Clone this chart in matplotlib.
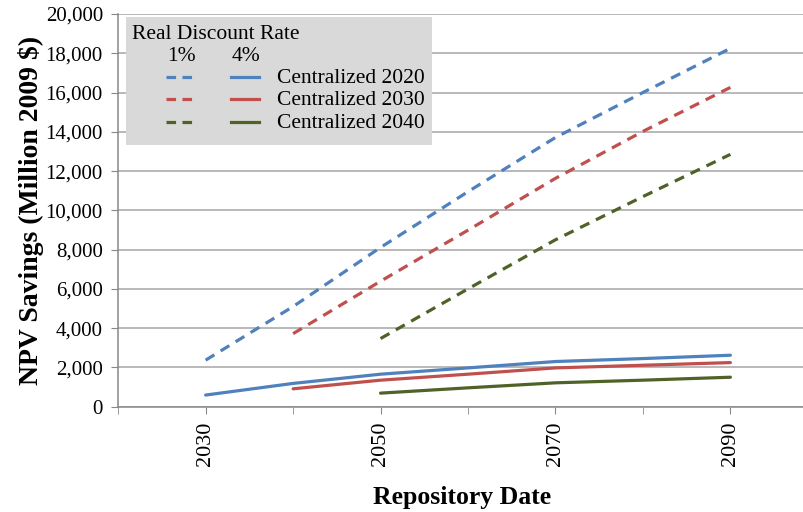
import numpy as np
import matplotlib.pyplot as plt
from matplotlib.patches import Rectangle
from matplotlib.lines import Line2D
from matplotlib.ticker import FuncFormatter, MultipleLocator

plt.rcParams['font.family'] = ['Liberation Serif', 'DejaVu Serif']

# repository dates (decades)
years = [2030, 2040, 2050, 2060, 2070, 2080, 2090]

# NPV savings, million 2009 $ ; None where the scenario has no value
c2020_1pct = [2370, 5100, 8110, 10950, 13710, 16000, 18250]
c2030_1pct = [None, 3720, 6390, 8990, 11630, 14020, 16260]
c2040_1pct = [None, None, 3470, 6000, 8500, 10700, 12850]
c2020_4pct = [592, 1185, 1655, 1975, 2300, 2450, 2620]
c2030_4pct = [None, 910, 1350, 1655, 1975, 2110, 2245]
c2040_4pct = [None, None, 690, 960, 1215, 1350, 1500]

labels = ['Centralized 2020', 'Centralized 2030', 'Centralized 2040']
colors = ['#4f81bd', '#c0504d', '#4f6228']
series_1pct = [c2020_1pct, c2030_1pct, c2040_1pct]
series_4pct = [c2020_4pct, c2030_4pct, c2040_4pct]

def clean(ys):
    x = [yr for yr, v in zip(years, ys) if v is not None]
    y = [v for v in ys if v is not None]
    return x, y

fig = plt.figure(figsize=(8.04, 5.12), dpi=100)
ax = fig.add_axes([0.147, 0.2057, 0.855, 0.767])

lw = 2.3
dash = (3.2, 2.3)
for ys, col in zip(series_1pct, colors):
    x, y = clean(ys)
    ax.plot(x, y, color=col, lw=lw, linestyle=(0, dash), solid_capstyle='butt')
for ys, col in zip(series_4pct, colors):
    x, y = clean(ys)
    ax.plot(x, y, color=col, lw=lw, solid_capstyle='round')

ax.set_xlim(2020, 2098.6)
ax.set_ylim(0, 20000)
ax.yaxis.set_major_locator(MultipleLocator(2000))
ax.yaxis.set_major_formatter(FuncFormatter(lambda v, p: '{:,.0f}'.format(v)))
ax.set_xticks([2030, 2050, 2070, 2090])
ax.set_xticks([2020, 2040, 2060, 2080], minor=True)
ax.tick_params(axis='x', which='both', rotation=90, length=5, color='#888888',
               labelsize=16, pad=6)
ax.tick_params(axis='y', length=5, color='#888888', labelsize=15, pad=6)
ax.grid(axis='y', color='#a6a6a6', lw=1.1)
ax.set_axisbelow(True)
for s in ['top', 'right']:
    ax.spines[s].set_visible(False)
for s in ['left', 'bottom']:
    ax.spines[s].set_color('#888888')
    ax.spines[s].set_linewidth(1.1)

ax.set_ylabel('NPV Savings (Million 2009 $)', fontsize=20, fontweight='bold', labelpad=1)
ax.set_xlabel('Repository Date', fontsize=18.5, fontweight='bold', labelpad=14)

# legend box drawn by hand: two line-style columns sharing one label column
def fx(px):
    return (px - 118) / 687.0

def fy(py):
    return (406.7 - py) / 392.7

ax.add_patch(Rectangle((fx(126), fy(145)), fx(432) - fx(126), fy(17) - fy(145),
                       transform=ax.transAxes, facecolor='#d9d9d9', edgecolor='none',
                       zorder=5))
ax.text(fx(132), fy(35), 'Real Discount Rate', transform=ax.transAxes, fontsize=15.5,
        va='center', ha='left', zorder=6)
ax.text(fx(181), fy(57), '1%', transform=ax.transAxes, fontsize=15.5,
        va='center', ha='center', zorder=6)
ax.text(fx(246), fy(57), '4%', transform=ax.transAxes, fontsize=15.5,
        va='center', ha='center', zorder=6)
rows = [77, 99, 122]
for ry, col, lab in zip(rows, colors, labels):
    ax.add_line(Line2D([fx(166), fx(197)], [fy(ry), fy(ry)], transform=ax.transAxes,
                       color=col, lw=lw, linestyle=(0, (3.0, 2.0)), zorder=6))
    ax.add_line(Line2D([fx(231), fx(259)], [fy(ry), fy(ry)], transform=ax.transAxes,
                       color=col, lw=lw, zorder=6))
    ax.text(fx(277), fy(ry + 2), lab, transform=ax.transAxes, fontsize=15.5,
            va='center', ha='left', zorder=6)

fig.savefig('out.png', dpi=100)
